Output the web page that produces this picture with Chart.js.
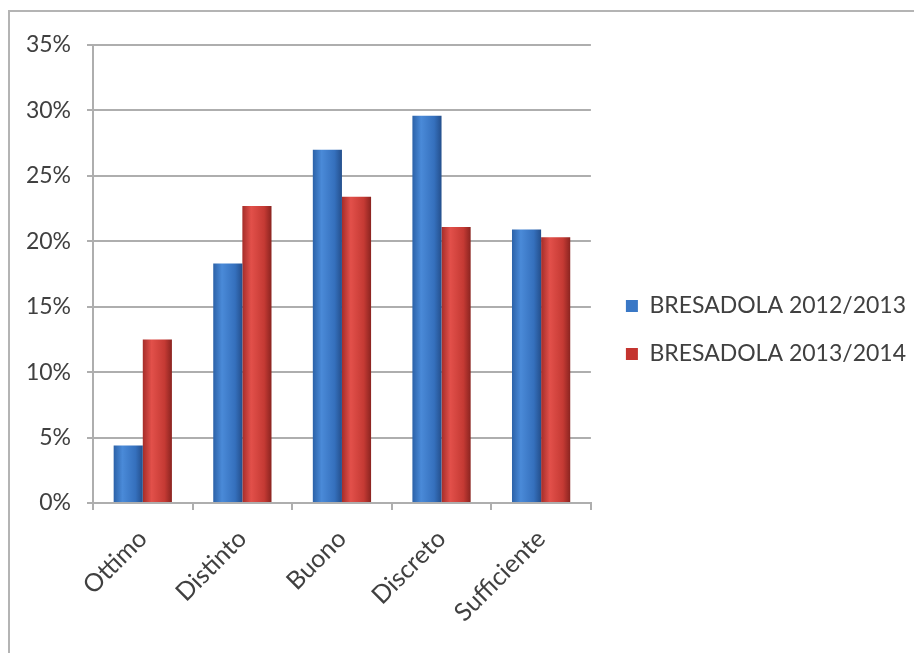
<!DOCTYPE html>
<html>
<head>
<meta charset="utf-8">
<script src="https://cdn.jsdelivr.net/npm/chart.js@4"></script>
<style>
    html, body { margin: 0; padding: 0; background: #fff; }
    #frame {
        position: absolute; left: 8px; top: 10px; width: 906px; height: 643px;
        border-left: 2px solid #b4b4b4; border-top: 2px solid #b4b4b4;
        background: #fff;
    }
    #wrap { position: absolute; left: 0; top: 0; width: 906px; height: 643px; }
</style>
</head>
<body>
<div id="frame"><div id="wrap"><canvas id="voti"></canvas></div></div>
<script>
// Valutazioni per anno scolastico
const categories = ['Ottimo', 'Distinto', 'Buono', 'Discreto', 'Sufficiente'];
const bresadola1213 = [4.4, 18.3, 27.0, 29.6, 20.9];
const bresadola1314 = [12.5, 22.7, 23.4, 21.1, 20.3];
const yTicks = [0, 5, 10, 15, 20, 25, 30, 35];

const CAT_PCT = 0.585;
const FONT = 'Lato';

// cylinder-like shading across each bar, positioned from the x scale
function barShade(stops) {
    return function(context) {
        const chart = context.chart;
        const xScale = chart.scales.x;
        if (!xScale || context.dataIndex === undefined) return stops[1];
        const center = xScale.getPixelForValue(context.dataIndex);
        const catWidth = xScale.width / categories.length;
        const barW = catWidth * CAT_PCT / 2;
        const left = center - barW + context.datasetIndex * barW;
        const g = chart.ctx.createLinearGradient(left, 0, left + barW, 0);
        g.addColorStop(0, stops[0]);
        g.addColorStop(0.3, stops[1]);
        g.addColorStop(0.75, stops[2]);
        g.addColorStop(1, stops[3]);
        return g;
    };
}

// nudge the legend a little away from the plot and upwards
const legendGap = {
    id: 'legendGap',
    afterLayout: function(chart) {
        if (chart.legend) {
            chart.legend.left += 10;
            chart.legend.right += 10;
            chart.legend.top -= 20;
            chart.legend.bottom -= 20;
        }
    }
};

const ctx = document.getElementById('voti');
ctx.chart = new Chart(ctx.getContext('2d'), {
    type: 'bar',
    data: {
        labels: categories,
        datasets: [
            {
                label: 'BRESADOLA 2012/2013',
                data: bresadola1213,
                backgroundColor: barShade(['#2c62a8', '#4a8ad8', '#3570bd', '#244f8c']),
                borderWidth: 0
            },
            {
                label: 'BRESADOLA 2013/2014',
                data: bresadola1314,
                backgroundColor: barShade(['#a52d29', '#e2504a', '#c53a34', '#8a2420']),
                borderWidth: 0
            }
        ]
    },
    plugins: [legendGap],
    options: {
        responsive: true,
        maintainAspectRatio: false,
        animation: false,
        categoryPercentage: CAT_PCT,
        barPercentage: 1.0,
        layout: { padding: { top: 33, right: 10, left: 0, bottom: 0 } },
        plugins: {
            tooltip: { enabled: false },
            legend: {
                position: 'right',
                maxWidth: 400,
                labels: {
                    color: '#404040',
                    font: { family: FONT, size: 23 },
                    boxWidth: 12,
                    boxHeight: 12,
                    padding: 25,
                    generateLabels: function(chart) {
                        const solid = ['#3a78c6', '#c4342f'];
                        return chart.data.datasets.map(function(ds, i) {
                            return {
                                text: ds.label,
                                fillStyle: solid[i],
                                strokeStyle: solid[i],
                                lineWidth: 0,
                                datasetIndex: i,
                                fontColor: '#404040'
                            };
                        });
                    }
                }
            }
        },
        scales: {
            y: {
                min: 0,
                max: 35,
                afterBuildTicks: function(axis) {
                    axis.ticks = yTicks.map(function(v) { return { value: v }; });
                },
                afterFit: function(axis) { axis.width = 83; },
                ticks: {
                    color: '#404040',
                    font: { family: FONT, size: 23 },
                    padding: 16,
                    callback: function(value) { return value + '%'; }
                },
                grid: {
                    color: '#aeaeae',
                    lineWidth: 2,
                    tickLength: 6
                },
                border: { color: '#aeaeae', width: 2 }
            },
            x: {
                afterFit: function(axis) { axis.height = 152; },
                ticks: {
                    color: '#404040',
                    font: { family: FONT, size: 25 },
                    minRotation: 45,
                    maxRotation: 45,
                    padding: 14
                },
                grid: {
                    offset: true,
                    drawOnChartArea: false,
                    color: '#aeaeae',
                    lineWidth: 2,
                    tickLength: 7
                },
                border: { color: '#aeaeae', width: 2 }
            }
        }
    }
});
</script>
</body>
</html>
